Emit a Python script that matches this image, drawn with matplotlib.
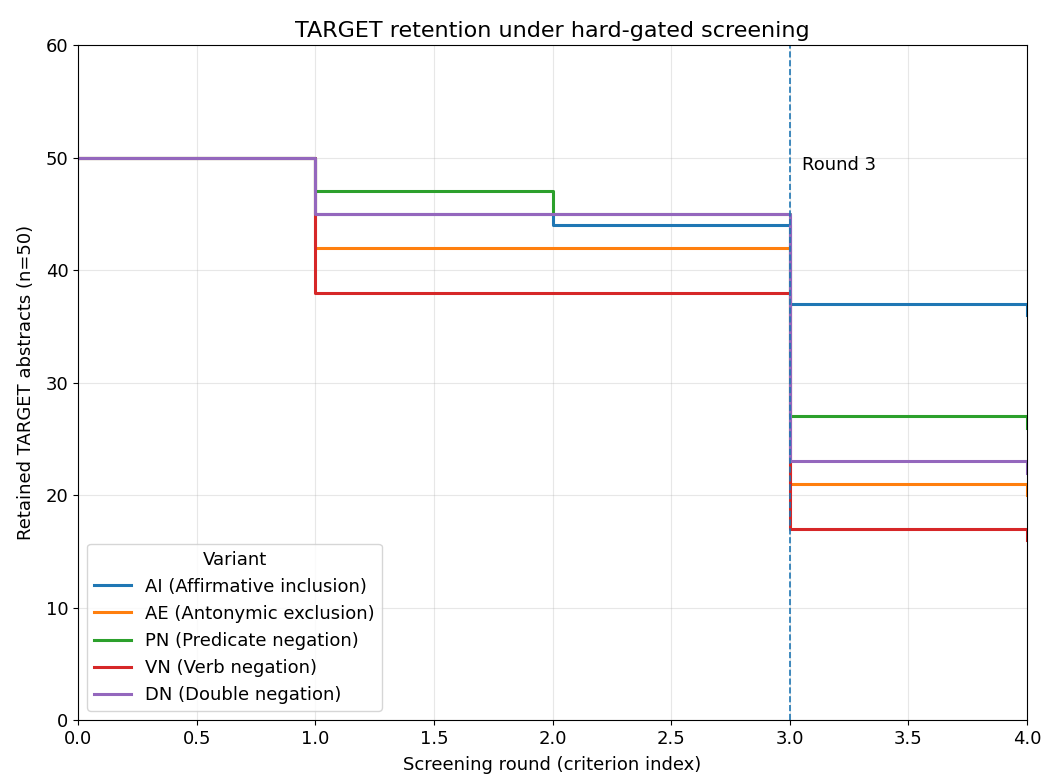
import matplotlib
matplotlib.use("Agg")
import matplotlib.pyplot as plt

rounds = [0, 1, 2, 3, 4]
variants = ["AI (Affirmative inclusion)", "AE (Antonymic exclusion)",
            "PN (Predicate negation)", "VN (Verb negation)", "DN (Double negation)"]
ai = [50, 45, 44, 37, 36]
ae = [50, 42, 42, 21, 20]
pn = [50, 47, 45, 27, 26]
vn = [50, 38, 38, 17, 16]
dn = [50, 45, 45, 23, 22]
series = [ai, ae, pn, vn, dn]
gate_round = 3

fig, ax = plt.subplots(figsize=(10.42, 7.76), dpi=100)
fig.subplots_adjust(left=0.075, right=0.9856, top=0.942, bottom=0.072)

for name, vals in zip(variants, series):
    ax.step(rounds, vals, where="post", linewidth=2.2, label=name)

ax.axvline(gate_round, linestyle="--", linewidth=1.2, color="C0")
ax.text(gate_round + 0.05, 49.3, "Round 3", fontsize=13, va="center")

ax.set_xlim(0, 4)
ax.set_ylim(0, 60)
ax.set_xlabel("Screening round (criterion index)", fontsize=13, labelpad=6)
ax.set_ylabel("Retained TARGET abstracts (n=50)", fontsize=13, labelpad=8)
ax.set_title("TARGET retention under hard-gated screening", fontsize=16)
ax.tick_params(labelsize=13)
ax.grid(True, alpha=0.3)
ax.legend(title="Variant", loc="lower left", fontsize=13, title_fontsize=13)

plt.savefig("out.png", dpi=100)
